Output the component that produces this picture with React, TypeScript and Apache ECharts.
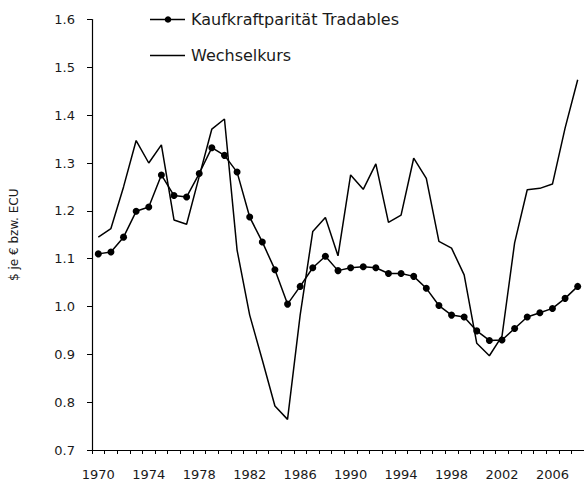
import React, { useEffect, useRef } from "react";
import * as echarts from "echarts";

const years: string[] = [];
for (let y = 1970; y <= 2008; y++) years.push(String(y));

const pppTradables = [
  1.11, 1.114, 1.145, 1.199, 1.208, 1.275, 1.232, 1.229, 1.278, 1.332,
  1.316, 1.281, 1.187, 1.135, 1.077, 1.005, 1.042, 1.081, 1.105, 1.075,
  1.081, 1.083, 1.081, 1.069, 1.069, 1.063, 1.038, 1.002, 0.982, 0.978,
  0.949, 0.929, 0.93, 0.954, 0.978, 0.987, 0.996, 1.017, 1.042,
];

const exchangeRate = [
  1.145, 1.163, 1.25, 1.347, 1.3, 1.338, 1.181, 1.172, 1.272, 1.371,
  1.392, 1.118, 0.982, 0.888, 0.792, 0.764, 0.982, 1.157, 1.186, 1.106,
  1.275, 1.245, 1.298, 1.176, 1.191, 1.31, 1.268, 1.136, 1.122, 1.066,
  0.923, 0.897, 0.938, 1.133, 1.244, 1.247, 1.256, 1.373, 1.474,
];

const yTicks = ["0.7", "0.8", "0.9", "1.0", "1.1", "1.2", "1.3", "1.4", "1.5", "1.6"];
const seriesNames = ["Kaufkraftparität Tradables", "Wechselkurs"];

const FONT = "DejaVu Sans";
const TEXT = "#1a1a1a";

export default function App() {
  const ref = useRef<HTMLDivElement>(null);
  useEffect(() => {
    if (!ref.current) return;
    const chart = echarts.init(ref.current, null, { renderer: "svg" });
    const legendX = 150;
    const legendY = [19.5, 55.5];
    chart.setOption({
      animation: false,
      backgroundColor: "#ffffff",
      grid: { left: 89, right: 0, top: 19.5, bottom: 35, containLabel: false },
      graphic: [
        {
          type: "line",
          shape: { x1: legendX, y1: legendY[0], x2: legendX + 35, y2: legendY[0] },
          style: { stroke: "#000", lineWidth: 1.5 },
        },
        {
          type: "circle",
          shape: { cx: legendX + 18, cy: legendY[0], r: 3.3 },
          style: { fill: "#000" },
        },
        {
          type: "text",
          x: legendX + 41,
          y: legendY[0],
          style: {
            text: seriesNames[0],
            fontFamily: FONT,
            fontSize: 16,
            fill: TEXT,
            verticalAlign: "middle",
            align: "left",
          },
        },
        {
          type: "line",
          shape: { x1: legendX, y1: legendY[1], x2: legendX + 35, y2: legendY[1] },
          style: { stroke: "#000", lineWidth: 1.5 },
        },
        {
          type: "text",
          x: legendX + 41,
          y: legendY[1],
          style: {
            text: seriesNames[1],
            fontFamily: FONT,
            fontSize: 16,
            fill: TEXT,
            verticalAlign: "middle",
            align: "left",
          },
        },
      ],
      xAxis: {
        type: "category",
        data: years,
        boundaryGap: true,
        axisLine: { lineStyle: { color: "#000", width: 1.2 } },
        axisTick: { show: true, interval: 0, length: 4, lineStyle: { color: "#000" } },
        axisLabel: {
          interval: 3,
          margin: 18,
          fontFamily: FONT,
          fontSize: 13,
          color: TEXT,
        },
        splitLine: { show: false },
      },
      yAxis: {
        type: "value",
        min: 0.7,
        max: 1.6,
        interval: 0.1,
        name: "$ je € bzw. ECU",
        nameLocation: "middle",
        nameGap: 72,
        nameRotate: 90,
        nameTextStyle: { fontFamily: FONT, fontSize: 12, color: TEXT },
        axisLine: { show: true, lineStyle: { color: "#000", width: 1.2 } },
        axisTick: { show: true, length: 5, lineStyle: { color: "#000" } },
        axisLabel: {
          margin: 17,
          fontFamily: FONT,
          fontSize: 13,
          color: TEXT,
          formatter: (v: number) => {
            const idx = Math.round((v - 0.7) * 10);
            return yTicks[idx] ?? v.toFixed(1);
          },
        },
        splitLine: { show: false },
      },
      series: [
        {
          name: seriesNames[0],
          type: "line",
          data: pppTradables,
          symbol: "circle",
          symbolSize: 7,
          showSymbol: true,
          itemStyle: { color: "#000" },
          lineStyle: { color: "#000", width: 1.5 },
          z: 3,
        },
        {
          name: seriesNames[1],
          type: "line",
          data: exchangeRate,
          symbol: "none",
          itemStyle: { color: "#000" },
          lineStyle: { color: "#000", width: 1.5 },
          z: 2,
        },
      ],
    });
    return () => chart.dispose();
  }, []);
  return (
    <div
      ref={ref}
      style={{ position: "absolute", left: 0, top: 0, width: 584, height: 485 }}
    />
  );
}
